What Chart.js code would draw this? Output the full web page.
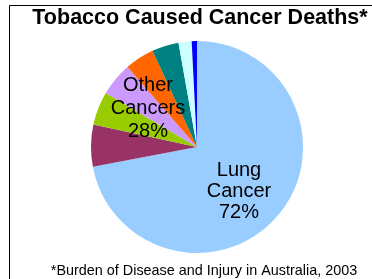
<!DOCTYPE html>
<html>
<head>
<meta charset="utf-8">
<script src="https://cdn.jsdelivr.net/npm/chart.js@4"></script>
<style>
  html, body { margin: 0; padding: 0; background: #fff; }
  #wrap { width: 372px; height: 279px; }
</style>
</head>
<body>
<div id="wrap"><canvas id="pieChart" width="372" height="279"></canvas></div>
<script>
// slices in clockwise order starting at 12 o'clock
var categories = ['Lung Cancer', 'Other 1', 'Other 2', 'Other 3', 'Other 4', 'Other 5', 'Other 6', 'Other 7'];
var shares = [72, 6.4, 5.1, 5.1, 4.5, 4.1, 2.0, 0.8];
var colours = ['#99ccff', '#993366', '#99cc00', '#cc99ff', '#ff6600', '#008080', '#ccffff', '#0000ff'];

var titleText = 'Tobacco Caused Cancer Deaths*';
var noteText = '*Burden of Disease and Injury in Australia, 2003';
var otherLabel = ['Other', 'Cancers', '28%'];
var lungLabel = ['Lung', 'Cancer', '72%'];

var canvas = document.getElementById('pieChart');

// frame, title, footnote and the two slice labels
var decorations = {
  id: 'decorations',
  afterDraw: function (chart) {
    var ctx = chart.ctx;
    ctx.save();
    ctx.strokeStyle = '#000';
    ctx.lineWidth = 1;
    ctx.beginPath();
    ctx.moveTo(9.5, 279);
    ctx.lineTo(9.5, 5.5);
    ctx.lineTo(372, 5.5);
    ctx.stroke();

    ctx.fillStyle = '#000';
    ctx.textAlign = 'center';
    ctx.textBaseline = 'middle';
    ctx.font = 'bold 21.5px "Liberation Sans", Arial, sans-serif';
    ctx.fillText(titleText, 200, 18);

    ctx.font = '14.4px "Liberation Sans", Arial, sans-serif';
    ctx.fillText(noteText, 204, 271);

    ctx.font = '20px "Liberation Sans", Arial, sans-serif';
    var ys = [85, 108, 131];
    for (var i = 0; i < otherLabel.length; i++) {
      ctx.fillText(otherLabel[i], 148, ys[i]);
    }
    var ly = [170, 191, 212];
    for (var j = 0; j < lungLabel.length; j++) {
      ctx.fillText(lungLabel[j], 239, ly[j]);
    }
    ctx.restore();
  }
};

var chart = new Chart(canvas, {
  type: 'pie',
  data: {
    labels: categories,
    datasets: [{
      data: shares,
      backgroundColor: colours,
      borderWidth: 0
    }]
  },
  options: {
    responsive: false,
    animation: false,
    layout: { padding: { top: 41, bottom: 26, left: 91, right: 69 } },
    plugins: {
      legend: { display: false },
      tooltip: { enabled: false },
      title: { display: false }
    }
  },
  plugins: [decorations]
});
</script>
</body>
</html>
